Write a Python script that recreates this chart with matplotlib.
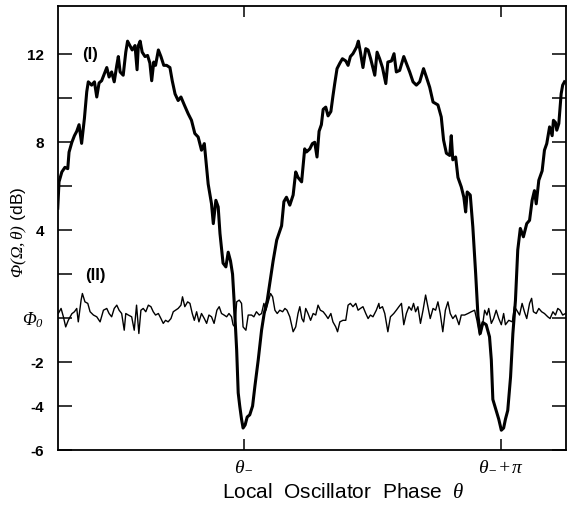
import numpy as np
import matplotlib
matplotlib.use("Agg")
import matplotlib.pyplot as plt

plt.rcParams['font.family'] = ['Liberation Sans', 'DejaVu Sans']
plt.rcParams['mathtext.fontset'] = 'custom'
# greek capitals are drawn with the 'rm' font, so make that italic serif too
plt.rcParams['mathtext.rm'] = 'Liberation Serif:italic'
plt.rcParams['mathtext.it'] = 'Liberation Serif:italic'
plt.rcParams['mathtext.bf'] = 'Liberation Serif:bold'

# phase relative to theta_-, in units of pi
phase_i = [-0.725, -0.720, -0.709, -0.697, -0.686, -0.681, -0.670, -0.660, -0.651, -0.642,
           -0.632, -0.621, -0.612, -0.606, -0.593, -0.582, -0.573, -0.564, -0.554, -0.544,
           -0.534, -0.525, -0.515, -0.505, -0.495, -0.489, -0.482, -0.470, -0.460, -0.453,
           -0.444, -0.435, -0.424, -0.416, -0.411, -0.404, -0.396, -0.385, -0.375, -0.366,
           -0.359, -0.351, -0.344, -0.333, -0.323, -0.312, -0.301, -0.288, -0.279, -0.268,
           -0.256, -0.245, -0.232, -0.217, -0.204, -0.191, -0.178, -0.165, -0.154, -0.148,
           -0.139, -0.126, -0.119, -0.109, -0.100, -0.093, -0.081, -0.070, -0.061, -0.052,
           -0.044, -0.038, -0.028, -0.022, -0.016, -0.009, -0.003, 0.005, 0.013, 0.023,
           0.034, 0.043, 0.056, 0.069, 0.079, 0.091, 0.114, 0.128, 0.147, 0.156,
           0.166, 0.179, 0.192, 0.202, 0.211, 0.225, 0.237, 0.244, 0.257, 0.267,
           0.276, 0.285, 0.293, 0.302, 0.309, 0.319, 0.328, 0.339, 0.347, 0.354,
           0.363, 0.374, 0.384, 0.397, 0.406, 0.415, 0.425, 0.439, 0.446, 0.454,
           0.464, 0.475, 0.484, 0.494, 0.510, 0.519, 0.529, 0.540, 0.553, 0.561,
           0.575, 0.585, 0.594, 0.607, 0.623, 0.633, 0.646, 0.659, 0.672, 0.685,
           0.700, 0.711, 0.724, 0.737, 0.756, 0.769, 0.778, 0.789, 0.802, 0.808,
           0.814, 0.825, 0.834, 0.847, 0.857, 0.864, 0.870, 0.882, 0.892, 0.903,
           0.912, 0.921, 0.931, 0.944, 0.957, 0.964, 0.970, 0.983, 0.993, 1.003,
           1.012, 1.019, 1.028, 1.039, 1.048, 1.058, 1.067, 1.077, 1.089, 1.102,
           1.113, 1.123, 1.132, 1.139, 1.149, 1.162, 1.171, 1.180, 1.191, 1.201,
           1.206, 1.214, 1.219, 1.227, 1.236, 1.242, 1.249]
noise_i = [5.0, 6.2, 6.65, 6.86, 6.8, 7.55, 8.0, 8.3, 8.5, 8.8,
           7.95, 9.1, 10.3, 10.75, 10.6, 10.75, 10.06, 10.7, 10.8, 11.1,
           11.4, 10.97, 11.2, 10.75, 11.5, 11.9, 11.2, 11.05, 12.1, 12.6,
           12.4, 12.2, 12.4, 11.3, 12.4, 12.6, 12.1, 11.9, 11.95, 11.6,
           10.8, 11.65, 11.5, 12.2, 11.9, 11.5, 11.5, 11.4, 10.8, 10.2,
           9.9, 10.06, 9.7, 9.3, 9.0, 8.4, 8.24, 7.64, 7.94,
           7.2, 6.1, 5.2, 4.3, 5.36, 5.06, 3.85, 2.5, 2.33, 3.0,
           2.6, 2.0, 0.8, -1.45, -3.4, -4.0, -4.6, -5.0, -4.86, -4.5,
           -4.4, -4.0, -3.1, -1.9, -0.55, 0.2, 0.8, 2.6, 3.55, 4.2,
           5.3, 5.5, 5.14, 5.6, 6.65, 6.4, 6.2, 7.7, 7.56, 7.7,
           7.94, 8.0, 7.33, 8.5, 8.8, 9.5, 9.6, 9.2, 9.4, 10.1,
           10.67, 11.35, 11.6, 11.8, 11.7, 11.5, 11.9, 12.03, 12.33, 12.6,
           12.1, 11.4, 12.26, 12.2, 11.8, 11.05, 12.1, 11.8, 11.4, 10.67,
           11.65, 11.7, 12.03, 11.2, 11.27, 11.9, 11.6, 11.2, 10.75, 10.6,
           10.75, 11.35, 10.97, 10.5, 9.83, 9.7, 9.15, 8.1, 7.5, 7.4,
           8.3, 7.2, 7.33, 6.4, 5.97, 5.5, 4.83, 5.74, 5.6, 4.15,
           2.03, 0.1, -0.7, -0.2, -0.3, -0.85, -1.9, -3.7, -4.2, -4.6,
           -5.1, -5.0, -4.6, -4.2, -2.67, -0.7, 0.8, 3.1, 4.08, 3.7,
           4.3, 4.45, 5.36, 5.8, 5.2, 6.27, 6.7, 7.64, 7.94, 8.7,
           8.3, 9.0, 8.9, 8.55, 8.85, 10.2, 10.6, 10.75]

phase_ii = [-0.723, -0.712, -0.703, -0.694, -0.684, -0.670, -0.660, -0.651, -0.645, -0.634,
            -0.629, -0.619, -0.608, -0.599, -0.586, -0.573, -0.560, -0.547, -0.534, -0.525,
            -0.515, -0.505, -0.495, -0.486, -0.476, -0.466, -0.460, -0.450, -0.437, -0.427,
            -0.418, -0.409, -0.401, -0.392, -0.382, -0.372, -0.362, -0.353, -0.344, -0.333,
            -0.323, -0.314, -0.305, -0.295, -0.284, -0.275, -0.266, -0.256, -0.245, -0.239,
            -0.230, -0.219, -0.210, -0.201, -0.193, -0.184, -0.175, -0.165, -0.154, -0.145,
            -0.136, -0.126, -0.116, -0.105, -0.096, -0.087, -0.077, -0.067, -0.058, -0.048,
            -0.042, -0.035, -0.028, -0.018, -0.009, -0.003, 0.008, 0.017, 0.030, 0.039,
            0.049, 0.060, 0.069, 0.078, 0.086, 0.095, 0.104, 0.112, 0.121, 0.130,
            0.140, 0.151, 0.160, 0.168, 0.179, 0.192, 0.202, 0.211, 0.218, 0.226,
            0.233, 0.241, 0.250, 0.260, 0.270, 0.280, 0.289, 0.298, 0.309, 0.319,
            0.328, 0.339, 0.347, 0.358, 0.365, 0.374, 0.386, 0.397, 0.406, 0.415,
            0.425, 0.436, 0.445, 0.454, 0.464, 0.475, 0.484, 0.493, 0.503, 0.516,
            0.526, 0.529, 0.540, 0.549, 0.561, 0.571, 0.584, 0.594, 0.604, 0.614,
            0.623, 0.633, 0.643, 0.653, 0.661, 0.669, 0.678, 0.688, 0.698, 0.708,
            0.717, 0.726, 0.737, 0.747, 0.756, 0.765, 0.775, 0.785, 0.795, 0.804,
            0.814, 0.825, 0.838, 0.847, 0.860, 0.873, 0.886, 0.899, 0.908, 0.918,
            0.929, 0.938, 0.947, 0.954, 0.964, 0.973, 0.983, 0.993, 1.003, 1.012,
            1.019, 1.032, 1.046, 1.054, 1.063, 1.074, 1.084, 1.093, 1.102, 1.113,
            1.121, 1.128, 1.139, 1.149, 1.160, 1.171, 1.184, 1.193, 1.204, 1.214,
            1.223, 1.232, 1.242, 1.253]
noise_ii = [0.21, 0.44, 0.06, -0.4, -0.1, 0.2, 0.29, 0.44, -0.17, 0.82,
            1.12, 0.74, 0.67, 0.29, 0.14, 0.06, -0.17, 0.36, 0.44, 0.21,
            0.06, 0.44, 0.59, 0.36, 0.21, -0.55, 0.21, 0.14, 0.06, -0.55,
            0.59, -0.7, 0.36, 0.44, 0.29, 0.59, 0.52, 0.29, 0.14, 0.21,
            -0.02, -0.24, -0.1, -0.17, -0.02, 0.29, 0.36, 0.44, 0.59, 0.97,
            0.52, 0.74, 0.67, 0.21, -0.1, 0.29, -0.17, 0.21, -0.02, -0.24,
            0.14, 0.06, -0.24, 0.36, 0.52, 0.21, 0.14, 0.06, 0.21, 0.06,
            -0.3, -0.4, 0.74, 0.82, 0.67, -0.4, -0.55, 0.14, 0.14, 0.06,
            0.29, 0.14, 0.21, 0.67, 0.36, 0.74, 1.12, 0.97, 0.36, 0.21,
            0.36, 0.29, 0.44, 0.36, 0.06, -0.62, -0.4, 0.21, 0.52, -0.02,
            -0.17, 0.44, 0.21, -0.1, 0.21, 0.14, 0.59, 0.36, 0.29, 0.14,
            -0.02, 0.21, -0.17, -0.4, -0.62, -0.17, -0.1, -0.1, 0.59, 0.67,
            0.52, 0.67, 0.36, 0.44, 0.52, 0.21, -0.02, 0.14, 0.06, 0.36,
            0.67, 0.44, 0.52, 0.21, -0.62, 0.06, 0.21, 0.36, 0.52, 0.67,
            -0.3, 0.21, 0.52, 0.36, 0.67, 0.29, 0.52, -0.24, 0.36, 1.05,
            0.52, -0.02, 0.44, 0.36, 0.74, 0.21, -0.62, 0.36, 0.74, 0.21,
            -0.02, 0.14, -0.3, 0.14, 0.14, 0.21, 0.29, 0.36, -0.1, -0.77,
            -0.4, 0.36, 0.14, 0.44, -0.24, -0.02, 0.36, -0.02, -0.3, 0.21,
            -0.3, -0.1, -0.17, 0.52, 0.36, 0.14, 0.67, 0.29, -0.02, 0.67,
            0.9, 0.29, 0.21, 0.44, 0.29, 0.21, 0.06, -0.02, 0.29, 0.14,
            0.44, 0.36, 0.14, 0.21]

yticks = [-6, -4, -2, 0, 2, 4, 6, 8, 10, 12]
ylabels = ['-6', '-4', '-2', r'$\Phi_0$', '', '4', '', '8', '', '12']
xticks = [0, 1]
xlabels = [r'$\theta_{-}$', r'$\theta_{-}\!+\!\pi$']

fig = plt.figure(figsize=(5.67, 5.07), dpi=100)
ax = fig.add_axes([58 / 567, 57 / 507, 507.5 / 567, 444 / 507])

ax.plot(phase_ii, noise_ii, color='black', lw=1.0)
ax.plot(phase_i, noise_i, color='black', lw=2.2, solid_joinstyle='round')

ax.set_xlim(-0.724, 1.253)
ax.set_ylim(-6, 14.2)
ax.set_yticks(yticks)
ax.set_yticklabels(ylabels, fontsize=11, fontweight='bold')
ax.set_xticks(xticks)
ax.set_xticklabels(xlabels, fontsize=14)
ax.tick_params(axis='y', direction='in', length=10, width=1.1, pad=10,
               left=True, right=True)
ax.tick_params(axis='x', direction='in', length=8, width=1.1, pad=6,
               top=True, bottom=True)
ax.get_yticklabels()[3].set_fontsize(13)
for s in ax.spines.values():
    s.set_linewidth(1.3)

ax.text(-0.6, 12.0, '(I)', fontsize=12, fontweight='bold', ha='center', va='center')
ax.text(-0.58, 1.95, '(II)', fontsize=12, fontweight='bold', ha='center', va='center')

ax.set_ylabel(r'$\Phi(\Omega,\theta)$ (dB)', fontsize=12.5)
ax.yaxis.set_label_coords(-0.058, 0.49)
fig.text(343 / 567, 1 - 493 / 507, r'Local  Oscillator  Phase  $\theta$', fontsize=15,
         ha='center', va='center')

fig.savefig('out.png', dpi=100)
